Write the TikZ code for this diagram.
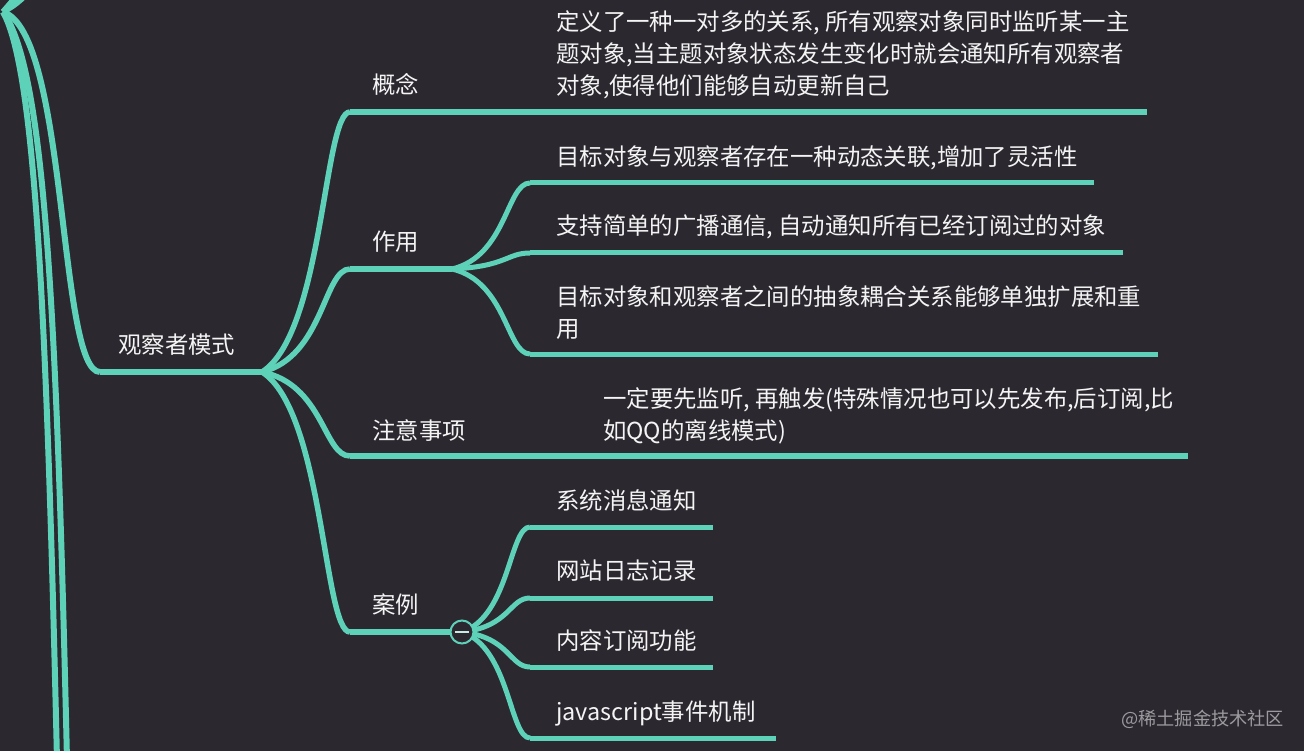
\documentclass[tikz,border=0pt]{standalone}
\usepackage{fontspec}
\setmainfont{Noto Sans CJK SC}
\usetikzlibrary{calc}
\definecolor{bgc}{HTML}{2C2830}
\definecolor{mmline}{HTML}{5ED1B9}
\definecolor{txtc}{HTML}{F4F4F4}
\definecolor{wmc}{HTML}{9C9A9E}
\newcommand{\bcurve}[3][]{%
  \draw[#1] let \p1=(#2), \p2=(#3) in (#2) .. controls ({\x1+0.7*(\x2-\x1)},{\y1+0.15*(\y2-\y1)}) and ({\x1+0.7*(\x2-\x1)},\y2) .. (#3);}
\tikzset{
  lone/.style={draw=mmline, line width=6pt},
  ltwo/.style={draw=mmline, line width=5.5pt},
  lthree/.style={draw=mmline, line width=5pt},
  lbl/.style={anchor=base west, inner sep=0pt, text=txtc, font=\fontsize{23.4}{32}\selectfont},
}
\newcommand{\ml}[1]{\begin{tabular}[t]{@{}l@{}}#1\end{tabular}}
\begin{document}
\begin{tikzpicture}[x=1pt,y=-1pt]
\fill[bgc] (0,0) rectangle (1304,751);
\useasboundingbox (0,0) rectangle (1304,751);
\begin{scope}
\clip (0,0) rectangle (1304,751);
% root and level-1 curves
\coordinate (root) at (3,12);
\coordinate (up1) at (20,-8);
\coordinate (up2) at (29,-8);
\coordinate (bl1) at (57,760);
\coordinate (bl2) at (67,760);
\coordinate (obsL) at (100,372);
\coordinate (obsR) at (262,372);
\draw[lone] (root) .. controls (10,4) .. (up1);
\draw[lone] (root) .. controls (16,4) .. (up2);
\draw[lone] (root) .. controls (36,70) and (47,330) .. (bl1);
\draw[lone] (root) .. controls (46,70) and (57,330) .. (bl2);
\draw[lone] (root) .. controls (68,32) and (58,372) .. (obsL);
\draw[lone] (obsL) -- (obsR);
\node[lbl] (obs) at (118,353) {观察者模式};

% level-2
\coordinate (gnL) at (350,112);   \coordinate (gnR) at (1147,112);
\coordinate (zyL) at (350,269);   \coordinate (zyR) at (452,269);
\coordinate (zsL) at (350,456);   \coordinate (zsR) at (1188,456);
\coordinate (alL) at (350,632);   \coordinate (alR) at (462,632);
\bcurve[ltwo]{obsR}{gnL}
\bcurve[ltwo]{obsR}{zyL}
\bcurve[ltwo]{obsR}{zsL}
\bcurve[ltwo]{obsR}{alL}
\draw[ltwo] (gnL) -- (gnR);
\draw[ltwo] (zyL) -- (zyR);
\draw[ltwo] (zsL) -- (zsR);
\draw[ltwo] (alL) -- (alR);
\node[lbl] (gn) at (372,94) {概念};
\node[lbl] (zy) at (372,251) {作用};
\node[lbl] (zs) at (372,439) {注意事项};
\node[lbl] (al) at (372,613) {案例};

% 概念 child
\node[lbl] (gnc) at (556,31) {\ml{定义了一种一对多的关系, 所有观察对象同时监听某一主\\题对象,当主题对象状态发生变化时就会通知所有观察者\\对象,使得他们能够自动更新自己}};

% 作用 children
\coordinate (z1L) at (530,183); \coordinate (z1R) at (1094,183);
\coordinate (z2L) at (530,253); \coordinate (z2R) at (1123,253);
\coordinate (z3L) at (530,354); \coordinate (z3R) at (1158,354);
\bcurve[lthree]{zyR}{z1L}
\bcurve[lthree]{zyR}{z2L}
\bcurve[lthree]{zyR}{z3L}
\draw[lthree] (z1L) -- (z1R);
\draw[lthree] (z2L) -- (z2R);
\draw[lthree] (z3L) -- (z3R);
\node[lbl] (z1) at (556,166) {目标对象与观察者存在一种动态关联,增加了灵活性};
\node[lbl] (z2) at (556,235) {支持简单的广播通信, 自动通知所有已经订阅过的对象};
\node[lbl] (z3) at (556,306) {\ml{目标对象和观察者之间的抽象耦合关系能够单独扩展和重\\用}};

% 注意事项 child
\node[lbl] (zsc) at (603,407) {\ml{一定要先监听, 再触发(特殊情况也可以先发布,后订阅,比\\如QQ的离线模式)}};

% 案例 children
\coordinate (a1L) at (530,527); \coordinate (a1R) at (713,527);
\coordinate (a2L) at (530,598); \coordinate (a2R) at (713,598);
\coordinate (a3L) at (530,667); \coordinate (a3R) at (713,667);
\coordinate (a4L) at (530,738); \coordinate (a4R) at (776,738);
\bcurve[lthree]{alR}{a1L}
\bcurve[lthree]{alR}{a2L}
\bcurve[lthree]{alR}{a3L}
\bcurve[lthree]{alR}{a4L}
\draw[lthree] (a1L) -- (a1R);
\draw[lthree] (a2L) -- (a2R);
\draw[lthree] (a3L) -- (a3R);
\draw[lthree] (a4L) -- (a4R);
\node[circle, draw=mmline, fill=bgc, line width=2pt, minimum size=23pt, inner sep=0pt] (fold) at (alR) {};
\draw[draw=txtc!70!mmline, line width=2pt] ($(fold.center)+(-7,0)$) -- ($(fold.center)+(7,0)$);
\node[lbl] (a1) at (556,509) {系统消息通知};
\node[lbl] (a2) at (556,579) {网站日志记录};
\node[lbl] (a3) at (556,649) {内容订阅功能};
\node[lbl] (a4) at (556,720) {javascript事件机制};
\end{scope}
% watermark
\node[anchor=base west, inner sep=0pt, text=wmc, font=\fontsize{18.2}{22}\selectfont] (wm) at (1121,725) {@稀土掘金技术社区};
\end{tikzpicture}
\end{document}
